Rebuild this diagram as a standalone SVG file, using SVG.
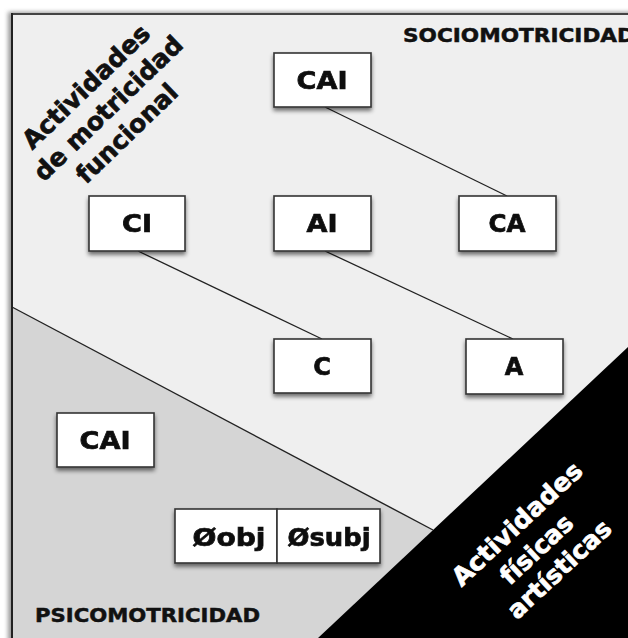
<svg xmlns="http://www.w3.org/2000/svg" width="628" height="638" viewBox="0 0 628 638">
  <style>
    .box { fill: #ffffff; stroke: #333333; stroke-width: 1.6; }
    .lbl { font-family: "DejaVu Sans", Verdana, sans-serif; font-weight: bold; font-size: 24px; fill: #111111; stroke: #111111; stroke-width: 0.7; text-anchor: middle; }
    .zone { font-family: "DejaVu Sans", Verdana, sans-serif; font-weight: bold; font-size: 19.5px; fill: #111111; stroke: #111111; stroke-width: 0.5; }
    .diag { font-family: "DejaVu Sans", Verdana, sans-serif; font-weight: bold; font-size: 25px; text-anchor: middle; stroke-width: 0.7; }
    .link { stroke: #222222; stroke-width: 1.3; fill: none; }
  </style>
  <defs>
    <filter id="shadow" x="-20%" y="-20%" width="140%" height="160%">
      <feGaussianBlur in="SourceAlpha" stdDeviation="2.2"/>
      <feOffset dx="0" dy="3" result="b"/>
      <feComponentTransfer><feFuncA type="linear" slope="0.55"/></feComponentTransfer>
      <feMerge><feMergeNode/><feMergeNode in="SourceGraphic"/></feMerge>
    </filter>
    <filter id="frameShadow" x="-5%" y="-5%" width="110%" height="110%">
      <feGaussianBlur stdDeviation="2"/>
    </filter>
  </defs>

  <!-- page -->
  <rect x="0" y="0" width="628" height="638" fill="#ffffff"/>

  <!-- frame shadow and areas -->
  <rect x="8" y="12" width="640" height="640" fill="#9a9a9a" filter="url(#frameShadow)"/>
  <rect x="12" y="14" width="620" height="630" fill="#efefef"/>
  <polygon points="12,307 433,530 318,638 12,638" fill="#d5d5d5"/>
  <line x1="12" y1="307" x2="433" y2="530" stroke="#222222" stroke-width="1.4"/>
  <polygon points="628,347 628,638 318,638" fill="#000000"/>
  <line x1="11" y1="14" x2="628" y2="14" stroke="#444444" stroke-width="2"/>
  <line x1="12" y1="13" x2="12" y2="638" stroke="#222222" stroke-width="2"/>

  <!-- zone labels -->
  <text class="zone" x="403" y="42" textLength="232" lengthAdjust="spacingAndGlyphs">SOCIOMOTRICIDAD</text>
  <text class="zone" x="35" y="622" textLength="225" lengthAdjust="spacingAndGlyphs">PSICOMOTRICIDAD</text>

  <g id="label-motricidad-funcional" transform="translate(108,108) rotate(-44)">
    <text class="diag" fill="#111111" stroke="#111111" x="-1" y="-22" textLength="166" lengthAdjust="spacingAndGlyphs">Actividades</text>
    <text class="diag" fill="#111111" stroke="#111111" x="0" y="9">de motricidad</text>
    <text class="diag" fill="#111111" stroke="#111111" x="-4" y="40">funcional</text>
  </g>

  <g id="label-artisticas" transform="translate(540,547) rotate(-43)">
    <text class="diag" fill="#ffffff" stroke="#ffffff" x="-1" y="-24" textLength="168" lengthAdjust="spacingAndGlyphs">Actividades</text>
    <text class="diag" fill="#ffffff" stroke="#ffffff" x="-4" y="8">físicas</text>
    <text class="diag" fill="#ffffff" stroke="#ffffff" x="-1" y="38">artísticas</text>
  </g>

  <!-- connectors -->
  <g id="connectors">
    <line class="link" x1="325" y1="107" x2="507" y2="196"/>
    <line class="link" x1="138" y1="251" x2="322" y2="339"/>
    <line class="link" x1="325" y1="251" x2="513" y2="339"/>
  </g>

  <!-- nodes -->
  <g id="node-cai-top" filter="url(#shadow)">
    <rect class="box" x="274" y="53" width="97" height="54"/>
    <text class="lbl" x="322" y="89" textLength="51" lengthAdjust="spacingAndGlyphs">CAI</text>
  </g>
  <g id="node-ci" filter="url(#shadow)">
    <rect class="box" x="89" y="196" width="96" height="55"/>
    <text class="lbl" x="137" y="232" textLength="30" lengthAdjust="spacingAndGlyphs">CI</text>
  </g>
  <g id="node-ai" filter="url(#shadow)">
    <rect class="box" x="274" y="196" width="97" height="55"/>
    <text class="lbl" x="322" y="232" textLength="31" lengthAdjust="spacingAndGlyphs">AI</text>
  </g>
  <g id="node-ca" filter="url(#shadow)">
    <rect class="box" x="459" y="196" width="97" height="55"/>
    <text class="lbl" x="507" y="232" textLength="37" lengthAdjust="spacingAndGlyphs">CA</text>
  </g>
  <g id="node-c" filter="url(#shadow)">
    <rect class="box" x="274" y="339" width="97" height="54"/>
    <text class="lbl" x="322" y="375">C</text>
  </g>
  <g id="node-a" filter="url(#shadow)">
    <rect class="box" x="466" y="339" width="97" height="55"/>
    <text class="lbl" x="514" y="375">A</text>
  </g>
  <g id="node-cai-bottom" filter="url(#shadow)">
    <rect class="box" x="57" y="413" width="97" height="54"/>
    <text class="lbl" x="105" y="449" textLength="51" lengthAdjust="spacingAndGlyphs">CAI</text>
  </g>
  <g id="node-obj-subj" filter="url(#shadow)">
    <rect class="box" x="175" y="509" width="102" height="54"/>
    <rect class="box" x="277" y="509" width="103" height="54"/>
    <text class="lbl" x="229" y="546" textLength="73" lengthAdjust="spacingAndGlyphs">Øobj</text>
    <text class="lbl" x="329" y="546" textLength="83" lengthAdjust="spacingAndGlyphs">Øsubj</text>
  </g>
</svg>
